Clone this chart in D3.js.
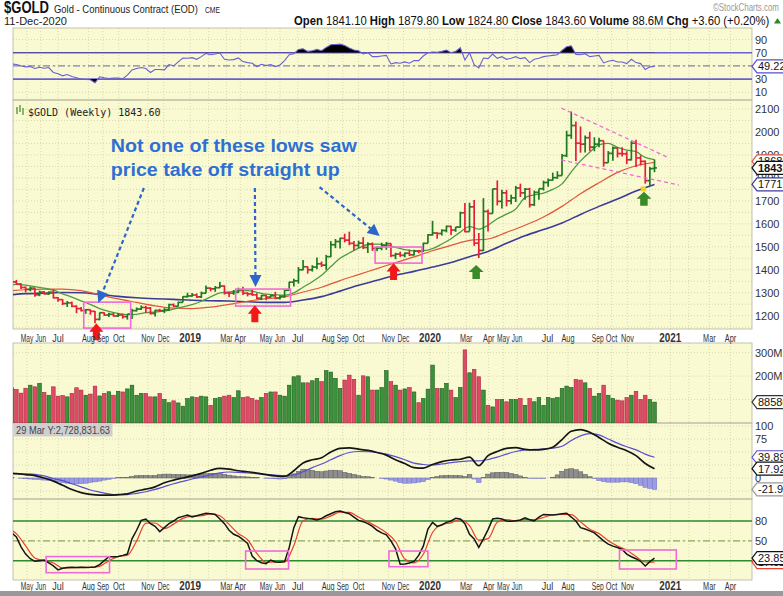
<!DOCTYPE html>
<html><head><meta charset="utf-8">
<script src="https://cdn.jsdelivr.net/npm/d3@7/dist/d3.min.js"></script>
<style>
html,body{margin:0;padding:0;background:#fff;}
svg{display:block;font-family:"Liberation Sans",Arial,sans-serif;}
</style></head><body>
<svg id="chart" width="783" height="596"></svg>
<script>
// ================= DATA =================
const firstWeek = "2018-04-13";            // first weekly bar (Friday), one bar per week
const open  = [1335,1347,1338,1323,1315,1320,1291,1303,1295,1302,1278,1270,1253,1256,1241,1231,1223,1226,1219,1184,1213,1203,1206,1199,1203,1196,1207,1222,1229,1236,1233,1210,1223,1222,1226,1248,1241,1258,1283,1286,1290,1282,1298,1320,1317,1322,1329,1299,1298,1302,1313,1298,1295,1291,1276,1288,1281,1287,1276,1284,1311,1346,1352,1400,1413,1400,1412,1426,1420,1457,1509,1523,1537,1529,1515,1506,1516,1497,1512,1493,1494,1505,1514,1462,1468,1463,1472,1465,1481,1480,1515,1552,1560,1558,1571,1589,1573,1586,1648,1566,1674,1516,1484,1654,1645,1752,1698,1735,1700,1713,1756,1735,1751,1683,1737,1753,1780,1790,1801,1810,1897,1985,2028,1951,1947,1975,1934,1947,1962,1866,1907,1930,1906,1905,1879,1951,1887,1872,1788,1841.1];
const high  = [1369,1356,1341,1327,1327,1322,1309,1308,1306,1315,1281,1272,1264,1262,1245,1238,1229,1228,1220,1214,1215,1213,1212,1212,1209,1207,1230,1236,1245,1243,1238,1226,1230,1233,1252,1253,1261,1285,1300,1299,1297,1305,1331,1323,1329,1347,1332,1303,1312,1322,1326,1302,1315,1298,1291,1291,1291,1304,1289,1312,1348,1361,1412,1443,1415,1420,1453,1436,1465,1525,1534,1539,1557,1566,1525,1527,1542,1520,1519,1501,1518,1521,1516,1474,1479,1475,1488,1487,1486,1518,1555,1613,1563,1576,1592,1592,1587,1653,1691,1692,1704,1560,1712,1662,1753,1789,1748,1747,1727,1765,1775,1756,1757,1745,1753,1788,1797,1823,1829,1904,2005,2089,2046,2024,1985,2001,1977,1975,1962,1917,1937,1933,1933,1916,1960,1966,1899,1876,1848,1879.8];
const low   = [1330,1335,1316,1302,1306,1283,1285,1292,1290,1275,1261,1246,1238,1237,1211,1218,1208,1204,1167,1180,1199,1194,1196,1194,1187,1183,1186,1218,1225,1212,1205,1197,1218,1212,1220,1238,1240,1257,1279,1282,1277,1277,1298,1306,1304,1320,1292,1281,1291,1298,1290,1284,1287,1272,1268,1267,1279,1272,1271,1278,1310,1327,1340,1398,1383,1392,1402,1412,1400,1455,1494,1493,1519,1507,1485,1494,1490,1473,1482,1481,1485,1487,1456,1446,1456,1454,1460,1462,1472,1478,1515,1549,1535,1549,1563,1551,1565,1583,1563,1567,1504,1451,1482,1567,1645,1680,1667,1676,1685,1695,1717,1705,1671,1678,1705,1745,1761,1788,1796,1810,1891,1970,1874,1910,1911,1916,1916,1933,1849,1866,1875,1889,1893,1860,1876,1848,1855,1775,1765,1824.8];
const close = [1347,1338,1323,1315,1320,1291,1303,1295,1302,1278,1270,1253,1256,1241,1231,1223,1226,1219,1184,1213,1203,1206,1199,1203,1196,1207,1222,1229,1236,1233,1210,1223,1222,1226,1248,1241,1258,1283,1286,1290,1282,1298,1320,1317,1322,1329,1299,1298,1302,1313,1298,1295,1291,1276,1288,1281,1287,1276,1284,1311,1346,1352,1400,1413,1400,1412,1426,1420,1457,1509,1523,1537,1529,1515,1506,1516,1497,1512,1493,1494,1505,1514,1462,1468,1463,1472,1465,1481,1480,1515,1552,1560,1558,1571,1589,1573,1586,1648,1566,1674,1516,1484,1654,1645,1752,1698,1735,1700,1713,1756,1735,1751,1683,1737,1753,1780,1790,1801,1810,1897,1985,2028,1951,1947,1975,1934,1947,1962,1866,1907,1930,1906,1905,1879,1951,1887,1872,1788,1840,1843.6];
const volumeM = [150,143,127,148,161,154,169,130,118,154,114,117,111,126,150,140,118,123,157,115,126,133,118,135,132,145,161,118,126,126,111,111,126,100,86,94,85,71,104,111,108,114,111,75,104,108,114,118,108,137,108,111,104,97,108,126,132,132,118,114,161,197,201,171,171,180,190,176,223,217,190,147,183,204,186,118,201,197,140,140,151,223,176,161,140,145,151,132,86,104,144,247,147,147,169,140,108,151,312,214,229,197,140,75,68,100,100,90,100,100,104,75,104,90,108,75,108,104,108,147,157,151,186,183,171,147,114,126,161,118,104,97,94,108,118,135,100,118,100,88.6];
// moving averages (read every 2nd / 4th week, starting one week before firstWeek)
const sma10 = [1332,1336,1333,1327,1320,1311,1295,1281,1265,1249,1231,1219,1210,1205,1206,1213,1216,1220,1229,1238,1248,1263,1282,1299,1304,1308,1309,1302,1294,1291,1289,1299,1324,1348,1376,1414,1450,1473,1494,1510,1512,1508,1497,1488,1482,1483,1492,1512,1535,1564,1588,1577,1594,1622,1642,1665,1714,1726,1734,1750,1774,1826,1874,1912,1944,1950,1933,1921,1914,1889,1880];
const sma30 = [1307,1313,1316,1316,1309,1291,1273,1258,1243,1233,1231,1237,1249,1263,1274,1282,1303,1324,1353,1379,1405,1431,1456,1483,1506,1528,1534,1563,1594,1630,1676,1731,1779,1824,1853,1868];
const sma50 = [1289,1296,1298,1301,1300,1293,1284,1278,1274,1271,1267,1265,1264,1261,1258,1258,1268,1283,1307,1333,1354,1376,1393,1412,1432,1457,1480,1515,1548,1575,1604,1641,1676,1708,1743,1771.6];
// RSI(14), weekly
const rsi = [53,52,50,48.5,49,46,48,46.5,47.5,40,38,35,37,34,32,30,29.5,29,24.5,33.5,32,31,31.5,31.5,30.5,36,43.8,46,47.5,46,40,44.5,44.5,44,52,50,56,62,61.5,62.5,60,64,69,67,68,69.5,60,59,59.5,62,56.5,55,54,49,52.5,50.5,52,49,51.5,58,67,68.5,75,76,72,73,75,73,78,82,82.5,83,81,77,74,73,68,70,64,64,65,66,53,55,54,56,54,58,58,65,70,71,70.5,72,74,70,72,77.5,59,70,52,47,62,61,68,61.5,64,60,61.5,64,61,62.5,55,60,61.5,64,65,66,67,73.5,79,80.5,67.5,67,68.5,64,65,66,54.5,57,58.5,56,56,53.5,60,55,53.5,44.5,48.5,49.22];
// MACD panel
const macdLine   = [10,8.5,6.5,4.5,0,-6,-14,-22,-28,-31.5,-33,-33,-32,-30.5,-25,-21.5,-17,-9,-4,0,4,9,15,18.5,17,14,12,9.5,6.5,4,3,14,29,35,39,50,57,58,55.5,53,49,44,35,28,20,19,26,31.5,34.6,36,40,23.7,43,51,57,58.3,55,54,55,59,74,90,93,88,78,67,59,52.5,43,28,17.923];
const macdSignal = [8,8.5,8,7,4,-1,-5,-11,-17,-23,-27,-30.5,-32.5,-32,-29.5,-26.5,-22,-16.5,-11,-6.5,-2,2,6,10,11.5,11,10,8.5,7,5.5,4.5,6,12,20,27,35,43,49,51,50.5,49,46,41,35,28.5,26,25,27,29.5,31.5,33,33,35.5,40,46,51,54,55,56,57.5,61,72,81,85.5,83,75,67,60,54,46,39.897];
const macdHist = [1,0,-0.5,-1.5,-2,-2.5,-3,-4,-4.5,-5,-7,-9,-10,-11,-11.5,-11,-10,-8.5,-7.5,-6,-4,-2.5,-1,0.5,1,1.5,3,4.5,5,5,4.5,5,6.5,7.5,7.5,7,7,6.5,6,6,6.5,7,8.5,9,9,8.5,7,5.5,4,3,2.5,2,1.5,1,0,-0.5,-1,-1.5,-2,-1.5,3,8,13,17,16,15,13,12,13.5,15,15,14,11,9,7,4.5,3,2.5,1,0,-1,-2,-4,-6,-9,-10,-10,-9.5,-8,-7,-3,1,3,4.5,5,5,5,4.5,3,7,-2,-9,1,7.5,10,11,11,11,9,7,4,1,-0.5,-1,-1,-1,0,1.5,6,13,17,18,16,12,7,2.5,-1,-5,-7,-8,-8,-8,-7.5,-7.5,-9,-11,-14,-18,-20,-21.974];
// Slow stochastics
const stochK = [62,56,41,30,23,19,20,21,16.5,12,6,8.5,9.5,10,9.8,10,9.8,10,10.5,14,20,26,26,26.5,28,30,53,66,81,83,76,72,64,70,76,80,85,87,89,86,88,90,91.7,91,90,83,76,66,60,57,52,46,27,20,17,15.5,21,18,17.5,18.5,40,70,86.5,85,84,83,81.5,84,88,91,94,95,93,91,86,81,79,76,72,66,62,59,50,38,14.5,15,16.5,19,28,42,68,78,72,74,78,80,84,83,76,60,53,40,53,67,83,84,83,80,79.5,80.5,81.5,85,82,80,86,90,89.5,89,90,91,91.7,86,80,70,68,65,62,56,50,45,42,40,37,30,26,23,19,12,18.5,23.85];
const stochD = [68,61,42.3,24,20,16.5,8.8,9.3,9.9,9.9,11.5,20,26.2,28.2,49.7,76.7,77,68.7,75.3,84,87.3,88,90.9,88,75,61,51.7,31,17.5,18.2,18,42.8,80.5,84,82.8,87.7,93.3,93,86,78.7,71.3,62.3,49,22.5,16.8,29.7,62.7,74.7,77.3,82.3,73,51,53.3,78,82.3,80,82.3,82.3,85.3,89.5,90,89.6,78.7,67.7,61,50.3,42.3,35.7,26.3,18,17.92];
// time axis: tick dates and their labels ("" = grid line only)
const tickDates  = ["2018-05-06","2018-05-27","2018-06-22","2018-08-07","2018-08-29","2018-09-22","2018-11-05","2018-11-29","2019-01-08","2019-02-05","2019-03-04","2019-03-25","2019-05-03","2019-05-24","2019-06-20","2019-08-05","2019-08-27","2019-09-20","2019-11-04","2019-11-27","2020-01-06","2020-02-03","2020-03-01","2020-04-04","2020-04-26","2020-05-17","2020-07-02","2020-08-02","2020-09-16","2020-10-07","2020-10-31","2020-12-04","2021-01-04","2021-02-01","2021-03-04","2021-04-05"];
const tickLabels = ["May","Jun","Jul","Aug","Sep","Oct","Nov","Dec","2019","","Mar","Apr","May","Jun","Jul","Aug","Sep","Oct","Nov","Dec","2020","","Mar","Apr","May","Jun","Jul","Aug","Sep","Oct","Nov","","2021","","Mar","Apr"];
const priceTicks = [1200,1300,1400,1500,1600,1700,1800,1900,2000,2100];
const rsiTicks = [10,30,70,90];
const volTicks = [200,300];
const macdTicks = [0,75,100];
const stochTicks = [50,80];
// annotations (date, price / value)
const noteLines = ["Not one of these lows saw","price take off straight up"];
const noteAt = ["2018-09-10",1913,1808];
const blueArrows = [[["2018-10-30",1756],["2018-08-22",1255]],[["2019-04-16",1756],["2019-04-17",1325]],[["2019-07-23",1760],["2019-10-22",1547]]];
const pinkBoxes = [["2018-07-31","2018-10-10",1259,1146],["2019-03-18","2019-06-09",1316,1242],["2019-10-15","2019-12-25",1499,1429]];
const redArrows = [["2018-08-19",1167],["2019-04-16",1246],["2019-11-12",1430]];
const greenArrows = [["2020-03-16",1421],["2020-11-25",1740]];
const yellowMark = ["2020-11-24",1752];
const wedgeLines = [[["2020-07-23",2104],["2020-12-30",1891]],[["2020-07-23",1878],["2021-01-17",1769]]];
const stochBoxes = [["2018-06-04","2018-09-08",26.2,1.8],["2019-04-02","2019-06-06",34.6,7.4],["2019-11-05","2020-01-03",34.6,10.9],["2020-10-19","2021-01-13",36.2,7.4]];

// ================= DRAW =================
const svg = d3.select("#chart");
const PL = 13, PR = 752;
const parse = d3.timeParse("%Y-%m-%d");
const t0 = parse(firstWeek);
const wk = i => d3.timeDay.offset(t0, 7*i);
const x = d3.scaleTime().domain([parse("2018-08-17"), parse("2020-12-11")]).range([95, 654.5]);
const xi = i => x(wk(i));
const xd = s => x(parse(s));
// condensed text: keep the font size, scale horizontally to the target width
function condensed(sel, px, py, target, allowStretch){
  sel.each(function(d){
    const w = this.getComputedTextLength();
    const t = typeof target === "function" ? target(d) : target;
    const sx = allowStretch ? t / w : Math.min(1, t / w);
    const X = typeof px === "function" ? px(d) : px, Y = typeof py === "function" ? py(d) : py;
    d3.select(this).attr("x",0).attr("y",0).attr("transform",`translate(${X},${Y}) scale(${sx.toFixed(3)},1)`);
  });
}

const yR = d3.scaleLinear().domain([0,100]).range([98.9,32.9]);
const yP = d3.scaleLinear().domain([1200,2100]).range([315.7,109]);
const yV = d3.scaleLinear().domain([0,300]).range([422.8,352.7]);
const yM = d3.scaleLinear().domain([0,100]).range([478,426]);
const yS = d3.scaleLinear().domain([0,100]).range([573.9,507.8]);

const panels = [
  {id:"rsi",y0:28,y1:100},{id:"price",y0:100,y1:329},{id:"vol",y0:343,y1:423},
  {id:"macd",y0:423,y1:499},{id:"stoch",y0:499,y1:580}];
const defs = svg.append("defs");
panels.forEach(p=>{
  defs.append("clipPath").attr("id","clip-"+p.id).append("rect")
    .attr("x",PL).attr("y",p.y0).attr("width",PR-PL).attr("height",p.y1-p.y0);
  svg.append("rect").attr("x",PL).attr("y",p.y0).attr("width",PR-PL).attr("height",p.y1-p.y0)
    .attr("fill","#fafad2");
});
const GRID = "#cfcfa8";
panels.forEach(p=>{
  svg.append("g").selectAll("line").data(tickDates).join("line")
    .attr("x1",xd).attr("x2",xd).attr("y1",p.y0).attr("y2",p.y1)
    .attr("stroke",GRID).attr("stroke-width",0.8).attr("stroke-dasharray","1,2");
});
function hgrid(vals, scale){
  svg.append("g").selectAll("line").data(vals).join("line")
    .attr("x1",PL).attr("x2",PR).attr("y1",scale).attr("y2",scale)
    .attr("stroke",GRID).attr("stroke-width",0.8).attr("stroke-dasharray","1,2");
}
hgrid([10,30,50,70,90], yR);
hgrid(d3.range(1150,2150,50), yP);
hgrid([100,200,300], yV);
hgrid([-25,0,25,50,75,100], yM);
hgrid([20,50,80], yS);
panels.forEach(p=>{
  svg.append("rect").attr("x",PL).attr("y",p.y0).attr("width",PR-PL).attr("height",p.y1-p.y0)
    .attr("fill","none").attr("stroke","#b5b5a0").attr("stroke-width",0.8);
});

// ---------- RSI ----------
const RSIC = "#6a5fd0";
const gR = svg.append("g").attr("clip-path","url(#clip-rsi)");
gR.append("line").attr("x1",PL).attr("x2",PR).attr("y1",yR(70)).attr("y2",yR(70)).attr("stroke",RSIC).attr("stroke-width",1.6);
gR.append("line").attr("x1",PL).attr("x2",PR).attr("y1",yR(30)).attr("y2",yR(30)).attr("stroke",RSIC).attr("stroke-width",1.6);
gR.append("line").attr("x1",PL).attr("x2",PR).attr("y1",yR(50)).attr("y2",yR(50)).attr("stroke","#8a80b0").attr("stroke-width",1.2).attr("stroke-dasharray","7,3,2,3");
defs.append("clipPath").attr("id","rsiHi").append("rect").attr("x",PL).attr("y",28).attr("width",PR-PL).attr("height",yR(70)-28);
defs.append("clipPath").attr("id","rsiLo").append("rect").attr("x",PL).attr("y",yR(30)).attr("width",PR-PL).attr("height",100-yR(30));
const rsiIdx = d3.range(rsi.length);
gR.append("g").attr("clip-path","url(#rsiHi)").append("path").datum(rsiIdx)
  .attr("d",d3.area().x(xi).y0(yR(70)).y1(i=>yR(rsi[i]))).attr("fill","#000");
gR.append("g").attr("clip-path","url(#rsiLo)").append("path").datum(rsiIdx)
  .attr("d",d3.area().x(xi).y0(yR(30)).y1(i=>yR(rsi[i]))).attr("fill","#000");
gR.append("path").datum(rsiIdx).attr("d",d3.line().x(xi).y(i=>yR(rsi[i])))
  .attr("fill","none").attr("stroke",RSIC).attr("stroke-width",1.1);

// ---------- PRICE ----------
const GREEN = "#1f7a1f", RED = "#e3203a";
const gP = svg.append("g").attr("clip-path","url(#clip-price)");
const sparse = (arr, step) => arr.map((v,k)=>({i:-1+step*k, v}));
function maLine(arr, step, color, w){
  gP.append("path").datum(sparse(arr,step))
    .attr("d",d3.line().x(d=>xi(d.i)).y(d=>yP(d.v)).curve(d3.curveMonotoneX))
    .attr("fill","none").attr("stroke",color).attr("stroke-width",w);
}
maLine(sma50,4,"#3c3c96",1.6);
maLine(sma30,4,"#e0563c",1.2);
maLine(sma10,2,"#4f9a3f",1.3);
const upDown = close.map((c,i)=> i===0 ? c>=open[0] : c>=close[i-1]);
const bars = gP.append("g").selectAll("g").data(close.map((c,i)=>i)).join("g")
  .attr("stroke",i=>upDown[i]?GREEN:RED).attr("stroke-width",1.7);
bars.append("line").attr("x1",xi).attr("x2",xi).attr("y1",i=>yP(high[i])).attr("y2",i=>yP(low[i]));
bars.append("line").attr("x1",i=>xi(i)-2.4).attr("x2",xi).attr("y1",i=>yP(open[i])).attr("y2",i=>yP(open[i]));
bars.append("line").attr("x1",xi).attr("x2",i=>xi(i)+2.4).attr("y1",i=>yP(close[i])).attr("y2",i=>yP(close[i]));

svg.append("g").selectAll("line").data(wedgeLines).join("line")
  .attr("x1",d=>xd(d[0][0])).attr("y1",d=>yP(d[0][1])).attr("x2",d=>xd(d[1][0])).attr("y2",d=>yP(d[1][1]))
  .attr("stroke","#ee6ad8").attr("stroke-width",1.3).attr("stroke-dasharray","4,3");
svg.append("g").selectAll("rect").data(pinkBoxes).join("rect")
  .attr("x",d=>xd(d[0])).attr("y",d=>yP(d[2])).attr("width",d=>xd(d[1])-xd(d[0])).attr("height",d=>yP(d[3])-yP(d[2]))
  .attr("fill","none").attr("stroke","#f06ad8").attr("stroke-width",1.6);
function blockArrow(cx, ty, w, h){
  const hw=w/2, sw=w/4, hh=h*0.5;
  return `M${cx},${ty} L${cx+hw},${ty+hh} L${cx+sw},${ty+hh} L${cx+sw},${ty+h} L${cx-sw},${ty+h} L${cx-sw},${ty+hh} L${cx-hw},${ty+hh} Z`;
}
svg.append("g").selectAll("path").data(redArrows).join("path")
  .attr("d",d=>blockArrow(xd(d[0]), yP(d[1]), 14, 17)).attr("fill","#f01818");
svg.append("g").selectAll("path").data(greenArrows).join("path")
  .attr("d",d=>blockArrow(xd(d[0]), yP(d[1]), 15, 14)).attr("fill","#3a8a2a");
svg.append("rect").attr("x",xd(yellowMark[0])-2.5).attr("y",yP(yellowMark[1])-2.5).attr("width",5).attr("height",5).attr("fill","#f2d21a");

const BLUE = "#2c66cc";
blueArrows.forEach(a=>{
  const x1=xd(a[0][0]), y1=yP(a[0][1]), x2=xd(a[1][0]), y2=yP(a[1][1]);
  const L=Math.hypot(x2-x1,y2-y1), ux=(x2-x1)/L, uy=(y2-y1)/L, hl=12, hw=6;
  const bx=x2-ux*hl, by=y2-uy*hl;
  svg.append("line").attr("x1",x1).attr("y1",y1).attr("x2",bx).attr("y2",by)
    .attr("stroke",BLUE).attr("stroke-width",2.2).attr("stroke-dasharray","4,3");
  svg.append("path").attr("d",`M${x2},${y2} L${bx-uy*hw},${by+ux*hw} L${bx+uy*hw},${by-ux*hw} Z`).attr("fill",BLUE);
});
svg.append("g").selectAll("text").data(noteLines).join("text")
  .attr("font-size",19).attr("font-weight","bold").attr("fill","#2f6fd4").text(d=>d)
  .call(condensed, xd(noteAt[0]), d=>yP(noteAt[1+noteLines.indexOf(d)]), d=>noteLines.indexOf(d)===0?246:229, true);

const icon = svg.append("g").attr("stroke","#3a8a2a").attr("stroke-width",1.2);
[[17,107,114],[20,105,112],[23,108,115]].forEach(s=>icon.append("line").attr("x1",s[0]).attr("x2",s[0]).attr("y1",s[1]).attr("y2",s[2]));
svg.append("text").attr("x",28).attr("y",115.5).attr("font-family","DejaVu Sans Mono, monospace").attr("font-size",10)
  .attr("fill","#222").text("$GOLD (Weekly) 1843.60");

// ---------- VOLUME ----------
const gV = svg.append("g").attr("clip-path","url(#clip-vol)");
gV.selectAll("rect").data(volumeM.map((v,i)=>i)).join("rect")
  .attr("x",i=>xi(i)-1.8).attr("width",3.6).attr("y",i=>yV(volumeM[i])).attr("height",i=>yV(0)-yV(volumeM[i]))
  .attr("fill",i=>upDown[i]?"#3a923a":"#e04a64").attr("stroke",i=>upDown[i]?"#1d5a1d":"#a8283e").attr("stroke-width",0.6);

// ---------- MACD ----------
const gM = svg.append("g").attr("clip-path","url(#clip-macd)");
gM.selectAll("rect").data(macdHist.map((v,i)=>i)).join("rect")
  .attr("x",i=>xi(i)-2.3).attr("width",4.6)
  .attr("y",i=>Math.min(yM(0),yM(macdHist[i]))).attr("height",i=>Math.abs(yM(macdHist[i])-yM(0)))
  .attr("fill",i=>macdHist[i]>=0?"#8e8e8e":"#9c9ce6").attr("stroke",i=>macdHist[i]>=0?"#5e5e5e":"#7070c0").attr("stroke-width",0.5);
gM.append("path").datum(sparse(macdSignal,2)).attr("d",d3.line().x(d=>xi(d.i)).y(d=>yM(d.v)).curve(d3.curveMonotoneX))
  .attr("fill","none").attr("stroke","#5a4fd0").attr("stroke-width",1.2);
gM.append("path").datum(sparse(macdLine,2)).attr("d",d3.line().x(d=>xi(d.i)).y(d=>yM(d.v)).curve(d3.curveMonotoneX))
  .attr("fill","none").attr("stroke","#151515").attr("stroke-width",1.7);
svg.append("rect").attr("x",13.5).attr("y",423.5).attr("width",99).attr("height",13).attr("fill","#cfcfcf");
svg.append("text").attr("font-size",10).attr("fill","#444")
  .text("29 Mar Y:2,728,831.63").call(condensed,16,433.5,94);

// ---------- STOCH ----------
const gS = svg.append("g").attr("clip-path","url(#clip-stoch)");
[80,20].forEach(v=>gS.append("line").attr("x1",PL).attr("x2",PR).attr("y1",yS(v)).attr("y2",yS(v)).attr("stroke","#2e8a2e").attr("stroke-width",1.4));
gS.append("line").attr("x1",PL).attr("x2",PR).attr("y1",yS(50)).attr("y2",yS(50)).attr("stroke","#8aaa5c").attr("stroke-width",1.3).attr("stroke-dasharray","7,3,2,3");
gS.append("path").datum(sparse(stochD,2)).attr("d",d3.line().x(d=>xi(d.i)).y(d=>yS(d.v)).curve(d3.curveMonotoneX))
  .attr("fill","none").attr("stroke","#e8402a").attr("stroke-width",1.2);
gS.append("path").datum(d3.range(stochK.length)).attr("d",d3.line().x(xi).y(i=>yS(stochK[i])))
  .attr("fill","none").attr("stroke","#151515").attr("stroke-width",1.5);
svg.append("g").selectAll("rect").data(stochBoxes).join("rect")
  .attr("x",d=>xd(d[0])).attr("y",d=>yS(d[2])).attr("width",d=>xd(d[1])-xd(d[0])).attr("height",d=>yS(d[3])-yS(d[2]))
  .attr("fill","none").attr("stroke","#f06ad8").attr("stroke-width",1.6);

// ---------- X AXIS LABELS ----------
const labW = {May:12.5,Jun:10.5,Jul:11.5,Aug:13,Sep:12,Oct:11.5,Nov:13,Dec:12,Mar:12.5,Apr:11.5};
const isYear = s => /^\d/.test(s);
const labIdx = d3.range(tickDates.length).filter(k=>tickLabels[k]);
[341.5, 589.5].forEach(yy=>{
  svg.append("g").selectAll("text").data(labIdx).join("text")
    .attr("text-anchor","middle")
    .attr("font-size",k=>isYear(tickLabels[k])?12.5:11)
    .attr("font-weight",k=>isYear(tickLabels[k])?"bold":"normal")
    .attr("fill","#333")
    .text(k=>tickLabels[k])
    .call(condensed, k=>xd(tickDates[k]), yy, k=>isYear(tickLabels[k])?22:labW[tickLabels[k]]);
});
svg.append("rect").attr("x",0).attr("y",591).attr("width",783).attr("height",5).attr("fill","#999");

// ---------- RIGHT AXIS ----------
function rlabels(vals, scale, fmt){
  svg.append("g").selectAll("text").data(vals).join("text")
    .attr("x",755).attr("y",v=>scale(v)+4).attr("font-size",11).attr("fill","#333").text(fmt);
}
rlabels(rsiTicks,yR,v=>v);
rlabels(priceTicks,yP,v=>v);
rlabels(volTicks,yV,v=>v+"M");
rlabels(macdTicks,yM,v=>v);
rlabels(stochTicks,yS,v=>v);
function tag(y, txt, color, bold){
  const g = svg.append("g");
  g.append("path").attr("d",`M752,${y} L757,${y-6.5} L790,${y-6.5} L790,${y+6.5} L757,${y+6.5} Z`)
    .attr("fill","#fff").attr("stroke",color).attr("stroke-width",1.2);
  g.append("text").attr("x",758).attr("y",y+4).attr("font-size",11).attr("font-weight",bold?"bold":"normal")
    .attr("fill","#111").text(txt);
}
tag(yR(49.22),"49.22","#5a4fd0");
tag(yP(sma30[sma30.length-1])-1,"1868.1","#e0563c");
tag(yP(sma50[sma50.length-1]),"1771.6","#3c3c96");
tag(yP(close[close.length-1]),"1843.6","#111",true);
tag(yV(volumeM[volumeM.length-1]),"88580592","#333");
tag(yM(-21.974),"-21.974","#999");
tag(yM(39.897),"39.897","#5a4fd0");
tag(yM(17.923),"17.923","#111");
tag(yS(17.92),"17.92","#e8402a");
tag(yS(23.85),"23.85","#111");

// ---------- HEADER ----------
svg.append("text").attr("font-size",16).attr("font-weight","bold").attr("fill","#111")
  .text("$GOLD").call(condensed,4,13,45);
svg.append("text").attr("font-size",11.5).attr("fill","#222")
  .text("Gold - Continuous Contract (EOD)").call(condensed,54,13,144);
svg.append("text").attr("font-size",9).attr("fill","#222")
  .text("CME").call(condensed,205,13,15);
svg.append("text").attr("font-size",11.5).attr("fill","#222")
  .text("11-Dec-2020").call(condensed,4,24.5,63);
svg.append("text").attr("font-size",10).attr("fill","#999")
  .text("©StockCharts.com").call(condensed,713,11,66);
const hdr = svg.append("text").attr("font-size",12.5).attr("fill","#111");
[["Open ",1],["1841.10 ",0],["High ",1],["1879.80 ",0],["Low ",1],["1824.80 ",0],["Close ",1],["1843.60 ",0],["Volume ",1],["88.6M ",0],["Chg ",1],["+3.60 (+0.20%)",0]]
  .forEach(p=>hdr.append("tspan").attr("font-weight",p[1]?"bold":"normal").text(p[0]));
hdr.call(condensed,294,24.5,476);
svg.append("path").attr("d","M774,23.5 L777.5,18 L781,23.5 Z").attr("fill","#2a8a2a");
</script>
</body></html>
